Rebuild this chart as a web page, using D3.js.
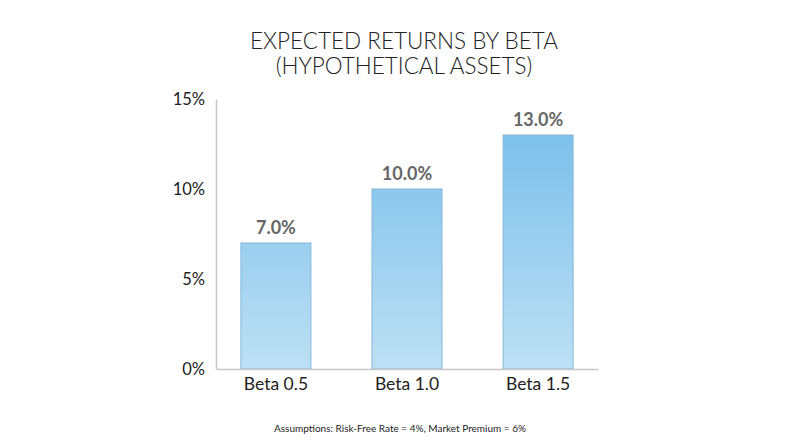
<!DOCTYPE html>
<html><head><meta charset="utf-8">
<script src="https://cdn.jsdelivr.net/npm/d3@7"></script>
<style>body{margin:0;background:#fff;}svg{display:block;}</style>
</head><body>
<svg id="c" width="800" height="447"></svg>
<script>
const categories = ["Beta 0.5", "Beta 1.0", "Beta 1.5"];
const values = [7.0, 10.0, 13.0];
const yTicks = [0, 5, 10, 15];
const titleLines = ["EXPECTED RETURNS BY BETA", "(HYPOTHETICAL ASSETS)"];
const footnote = "Assumptions: Risk-Free Rate = 4%, Market Premium = 6%";

const svg = d3.select("#c");
const font = "Lato, 'Open Sans', sans-serif";
const x = d3.scaleBand().domain(categories).range([216, 598]).paddingInner(0.466).paddingOuter(0.19);
const y = d3.scaleLinear().domain([0, 15]).range([369, 99]);

const defs = svg.append("defs");
const g = defs.append("linearGradient").attr("id","bg")
  .attr("gradientUnits","userSpaceOnUse").attr("x1",0).attr("x2",0).attr("y1",y(13)).attr("y2",y(0));
g.append("stop").attr("offset","0%").attr("stop-color","#7dc0ea");
g.append("stop").attr("offset","100%").attr("stop-color","#bde0f4");

svg.append("g").selectAll("text").data(titleLines).join("text")
  .attr("x", 404).attr("y", (d,i)=>48.5+i*25.5).attr("text-anchor","middle")
  .attr("font-family", font).attr("font-size", 22.5).attr("font-weight", 300).attr("fill","#222")
  .text(d=>d);

// bars
svg.append("g").selectAll("rect").data(values).join("rect")
  .attr("x",(d,i)=>x(categories[i])).attr("width",x.bandwidth())
  .attr("y",d=>y(d)).attr("height",d=>y(0)-y(d))
  .attr("fill","url(#bg)").attr("stroke","#86b6d9").attr("stroke-width",1);

// axes
const yAxis = svg.append("g").attr("transform","translate(216,0)")
  .call(d3.axisLeft(y).tickValues(yTicks).tickFormat(d=>d+"%").tickSize(0).tickPadding(11));
yAxis.select(".domain").attr("stroke","#c8c8c8").attr("stroke-width",1.5);
yAxis.selectAll("text").attr("font-family",font).attr("font-size",16.5).attr("fill","#222");

const xAxis = svg.append("g").attr("transform","translate(0,369)")
  .call(d3.axisBottom(x).tickSize(0).tickPadding(9));
xAxis.select(".domain").attr("stroke","#c8c8c8").attr("stroke-width",1.5);
xAxis.selectAll("text").attr("font-family",font).attr("font-size",17.5).attr("fill","#222");

// value labels
svg.append("g").selectAll("text").data(values).join("text")
  .attr("x",(d,i)=>x(categories[i])+x.bandwidth()/2).attr("y",d=>y(d)-9)
  .attr("text-anchor","middle").attr("font-family",font).attr("font-size",18).attr("font-weight",700)
  .attr("fill","#666").text(d=>d.toFixed(1)+"%");

svg.append("text").attr("x",400).attr("y",432).attr("text-anchor","middle")
  .attr("font-family",font).attr("font-size",10).attr("fill","#222").text(footnote);
</script>
</body></html>
